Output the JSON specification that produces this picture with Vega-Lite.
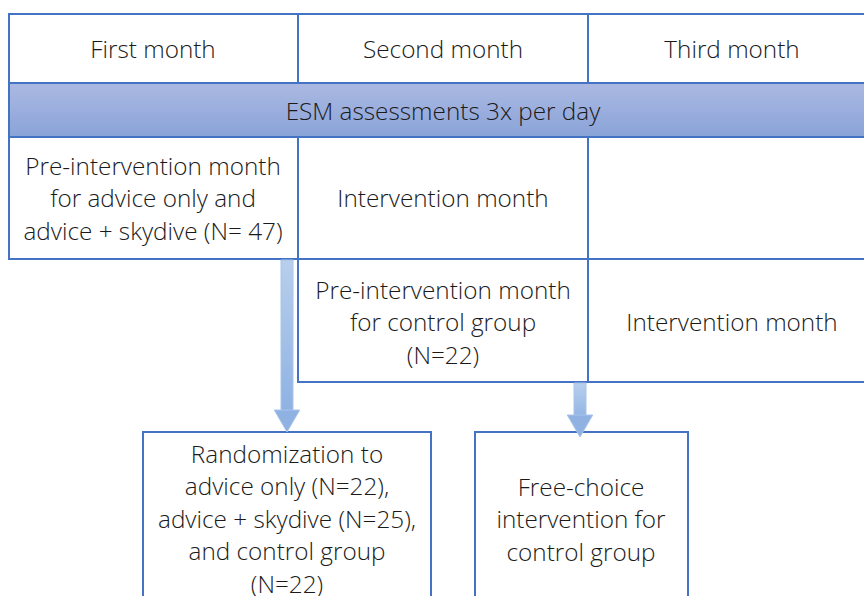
{
  "$schema": "https://vega.github.io/schema/vega-lite/v6.json",
  "width": 864,
  "height": 596,
  "autosize": {"type": "fit", "contains": "padding"},
  "padding": 0,
  "background": "white",
  "config": {"view": {"stroke": null}},
  "datasets": {
    "cells": [
      {"x": 9, "x2": 298, "y": 14, "y2": 83},
      {"x": 298, "x2": 588, "y": 14, "y2": 83},
      {"x": 588, "x2": 880, "y": 14, "y2": 83},
      {"x": 9, "x2": 298, "y": 137, "y2": 259},
      {"x": 298, "x2": 588, "y": 137, "y2": 259},
      {"x": 588, "x2": 880, "y": 137, "y2": 259},
      {"x": 298, "x2": 588, "y": 259, "y2": 382},
      {"x": 588, "x2": 880, "y": 259, "y2": 382},
      {"x": 143, "x2": 431, "y": 432, "y2": 620},
      {"x": 475, "x2": 688, "y": 432, "y2": 620}
    ],
    "band": [{"x": 9, "x2": 880, "y": 83, "y2": 137}],
    "shafts": [
      {"x": 281, "x2": 293, "y": 260, "y2": 411},
      {"x": 574, "x2": 586, "y": 383, "y2": 420}
    ],
    "heads": [
      {"x": 287, "y": 421},
      {"x": 580, "y": 426}
    ],
    "texts": [
      {"x": 153, "y": 50.5, "label": "First month"},
      {"x": 443, "y": 50.5, "label": "Second month"},
      {"x": 732, "y": 50.5, "label": "Third month"},
      {"x": 443, "y": 112.5, "label": "ESM assessments 3x per day"},
      {"x": 153, "y": 167.5, "label": "Pre-intervention month\nfor advice only and\nadvice + skydive (N= 47)"},
      {"x": 443, "y": 199.5, "label": "Intervention month"},
      {"x": 443, "y": 291.5, "label": "Pre-intervention month\nfor control group\n(N=22)"},
      {"x": 732, "y": 323.5, "label": "Intervention month"},
      {"x": 287, "y": 455.5, "label": "Randomization to\nadvice only (N=22),\nadvice + skydive (N=25),\nand control group\n(N=22)"},
      {"x": 581, "y": 488.5, "label": "Free-choice\nintervention for\ncontrol group"}
    ]
  },
  "layer": [
    {
      "data": {"name": "cells"},
      "mark": {"type": "rect", "fill": "white", "stroke": "#4472c4", "strokeWidth": 2, "clip": true},
      "encoding": {
        "x": {"field": "x", "type": "quantitative", "scale": {"domain": [0, 864], "nice": false, "zero": false}, "axis": null},
        "x2": {"field": "x2"},
        "y": {"field": "y", "type": "quantitative", "scale": {"domain": [0, 596], "nice": false, "zero": false, "reverse": true}, "axis": null},
        "y2": {"field": "y2"}
      }
    },
    {
      "data": {"name": "band"},
      "mark": {
        "type": "rect", "stroke": "#4472c4", "strokeWidth": 2, "clip": true,
        "fill": {"gradient": "linear", "x1": 0, "y1": 0, "x2": 0, "y2": 1,
          "stops": [{"offset": 0, "color": "#abb9e2"}, {"offset": 1, "color": "#8aa3d8"}]}
      },
      "encoding": {
        "x": {"field": "x", "type": "quantitative", "axis": null},
        "x2": {"field": "x2"},
        "y": {"field": "y", "type": "quantitative", "axis": null},
        "y2": {"field": "y2"}
      }
    },
    {
      "data": {"name": "shafts"},
      "mark": {
        "type": "rect", "stroke": "#a9c4ea", "strokeWidth": 1, "clip": true,
        "fill": {"gradient": "linear", "x1": 0, "y1": 0, "x2": 0, "y2": 1,
          "stops": [{"offset": 0, "color": "#b8cfec"}, {"offset": 1, "color": "#8fb2e3"}]}
      },
      "encoding": {
        "x": {"field": "x", "type": "quantitative", "axis": null},
        "x2": {"field": "x2"},
        "y": {"field": "y", "type": "quantitative", "axis": null},
        "y2": {"field": "y2"}
      }
    },
    {
      "data": {"name": "heads"},
      "mark": {"type": "point", "shape": "M-1,-0.86L1,-0.86L0,0.86Z", "size": 650, "filled": true, "fill": "#8fb2e3", "stroke": "#a9c4ea", "strokeWidth": 1, "opacity": 1, "clip": true},
      "encoding": {
        "x": {"field": "x", "type": "quantitative", "axis": null},
        "y": {"field": "y", "type": "quantitative", "axis": null}
      }
    },
    {
      "data": {"name": "texts"},
      "mark": {"type": "text", "font": "Open Sans", "fontWeight": 300, "fontSize": 24.3, "color": "#1a1a1a", "lineBreak": "\n", "lineHeight": 32.5, "align": "center", "baseline": "middle", "clip": true},
      "encoding": {
        "x": {"field": "x", "type": "quantitative", "axis": null},
        "y": {"field": "y", "type": "quantitative", "axis": null},
        "text": {"field": "label"}
      }
    }
  ]
}
